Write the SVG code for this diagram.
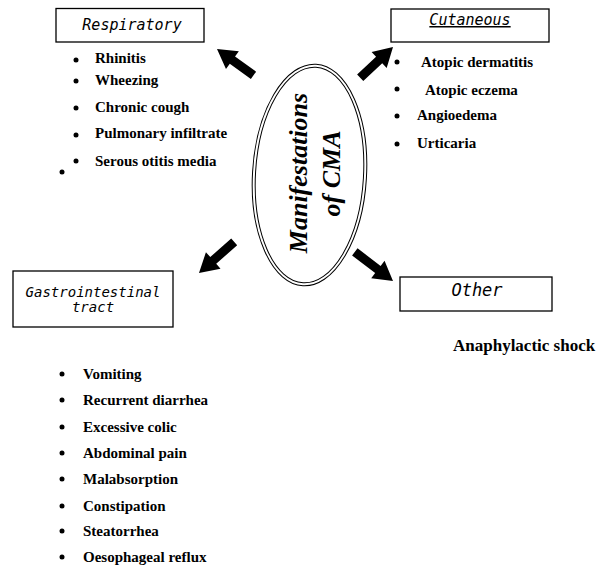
<svg xmlns="http://www.w3.org/2000/svg" width="611" height="566" viewBox="0 0 611 566">
<style>
.box{fill:#fff;stroke:#000;stroke-width:1.3}
.lbl{font-family:"DejaVu Sans Mono","Liberation Mono",monospace;font-style:italic;font-size:15px;fill:#000;text-anchor:middle}
.item{font-family:"Liberation Serif","Times New Roman",serif;font-weight:bold;font-size:15px;fill:#000}
.bul{fill:#000}
.arr{fill:#000;stroke:none}
.ell{fill:none;stroke:#000;stroke-width:1}
.ctr{font-family:"Liberation Serif","Times New Roman",serif;font-weight:bold;font-style:italic;font-size:26px;fill:#000;text-anchor:middle}
</style>
<rect width="611" height="566" fill="#fff"/>

<g id="center">
  <g transform="translate(309.5,175) rotate(3.4)">
    <ellipse class="ell" cx="0" cy="0" rx="57" ry="111"/>
    <ellipse class="ell" cx="0" cy="0" rx="54" ry="108"/>
  </g>
  <text class="ctr" transform="translate(307,173) rotate(-90)">Manifestations</text>
  <text class="ctr" transform="translate(340,173.5) rotate(-90)">of CMA</text>
</g>

<g id="connectors">
  <path class="arr" d="M0,0 L-19,-11 L-19,-4.5 L-45,-4.5 L-45,4.5 L-19,4.5 L-19,11 Z" transform="translate(217,49) rotate(-144.2)"/>
  <path class="arr" d="M0,0 L-19,-11 L-19,-4.5 L-45,-4.5 L-45,4.5 L-19,4.5 L-19,11 Z" transform="translate(393,47) rotate(-43.2)"/>
  <path class="arr" d="M0,0 L-19,-11 L-19,-4.5 L-47,-4.5 L-47,4.5 L-19,4.5 L-19,11 Z" transform="translate(199,273) rotate(138.5)"/>
  <path class="arr" d="M0,0 L-19,-11 L-19,-4.5 L-48,-4.5 L-48,4.5 L-19,4.5 L-19,11 Z" transform="translate(393,281) rotate(37.3)"/>
</g>

<g id="respiratory">
  <rect class="box" x="56" y="8.5" width="148" height="33.5"/>
  <text class="lbl" x="132" y="30">Respiratory</text>
  <circle class="bul" cx="76" cy="60" r="2.5"/>
  <text class="item" x="95" y="63">Rhinitis</text>
  <circle class="bul" cx="76" cy="81" r="2.5"/>
  <text class="item" x="95" y="85">Wheezing</text>
  <circle class="bul" cx="76" cy="108" r="2.5"/>
  <text class="item" x="95" y="112">Chronic cough</text>
  <circle class="bul" cx="76" cy="135" r="2.5"/>
  <text class="item" x="95" y="138">Pulmonary infiltrate</text>
  <circle class="bul" cx="76" cy="161" r="2.5"/>
  <text class="item" x="95" y="166">Serous otitis media</text>
  <circle class="bul" cx="62" cy="172" r="2.5"/>
</g>

<g id="cutaneous">
  <rect class="box" x="391" y="9" width="158" height="33"/>
  <text class="lbl" x="470" y="25" text-decoration="underline">Cutaneous</text>
  <circle class="bul" cx="397" cy="62" r="2.5"/>
  <text class="item" x="421" y="67">Atopic dermatitis</text>
  <circle class="bul" cx="397" cy="89" r="2.5"/>
  <text class="item" x="425" y="95">Atopic eczema</text>
  <circle class="bul" cx="397" cy="116" r="2.5"/>
  <text class="item" x="417" y="120">Angioedema</text>
  <circle class="bul" cx="397" cy="144" r="2.5"/>
  <text class="item" x="417" y="148">Urticaria</text>
</g>

<g id="gastrointestinal">
  <rect class="box" x="13" y="271" width="160" height="56"/>
  <text class="lbl" x="93" y="297" style="font-size:14px">Gastrointestinal</text>
  <text class="lbl" x="93" y="312" style="font-size:14px">tract</text>
  <circle class="bul" cx="62" cy="374" r="2.5"/>
  <text class="item" x="83" y="379">Vomiting</text>
  <circle class="bul" cx="62" cy="400" r="2.5"/>
  <text class="item" x="83" y="405">Recurrent diarrhea</text>
  <circle class="bul" cx="62" cy="427" r="2.5"/>
  <text class="item" x="83" y="432">Excessive colic</text>
  <circle class="bul" cx="62" cy="453" r="2.5"/>
  <text class="item" x="83" y="458">Abdominal pain</text>
  <circle class="bul" cx="62" cy="479" r="2.5"/>
  <text class="item" x="83" y="484">Malabsorption</text>
  <circle class="bul" cx="62" cy="506" r="2.5"/>
  <text class="item" x="83" y="511">Constipation</text>
  <circle class="bul" cx="62" cy="531" r="2.5"/>
  <text class="item" x="83" y="536">Steatorrhea</text>
  <circle class="bul" cx="62" cy="557" r="2.5"/>
  <text class="item" x="83" y="562">Oesophageal reflux</text>
</g>

<g id="other">
  <rect class="box" x="400" y="277" width="152" height="34"/>
  <text class="lbl" x="477" y="296" style="font-size:17px">Other</text>
  <text class="item" x="453" y="351" style="font-size:17px">Anaphylactic shock</text>
</g>
</svg>
